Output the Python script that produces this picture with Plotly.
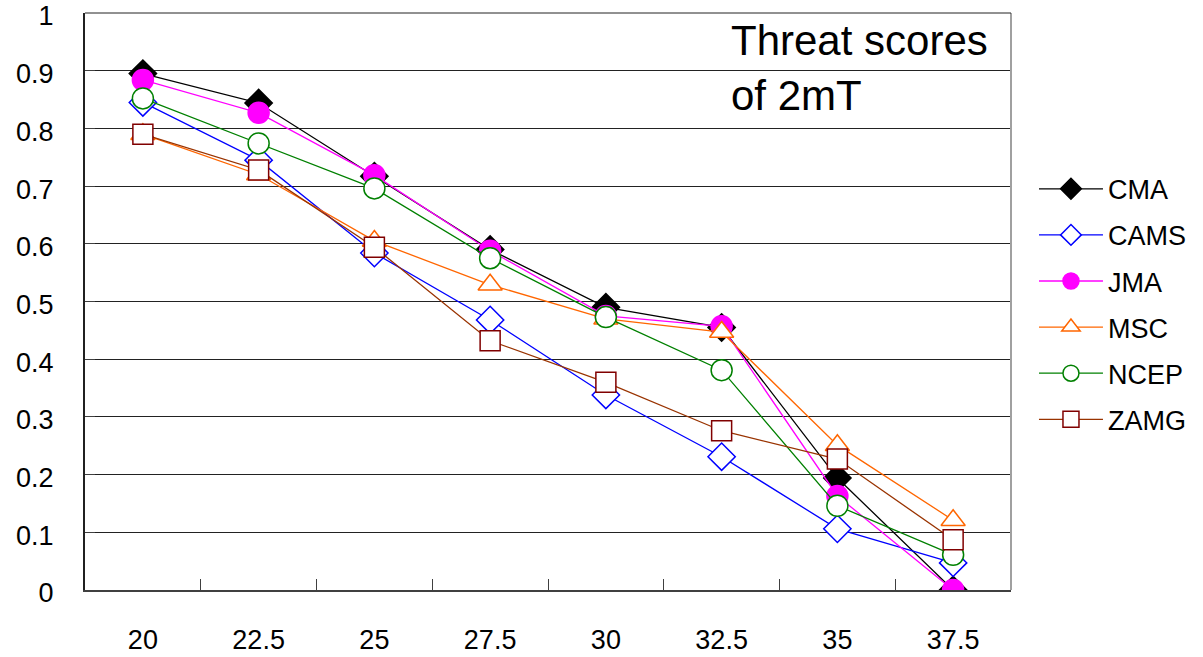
import plotly.graph_objects as go

categories = ["20", "22.5", "25", "27.5", "30", "32.5", "35", "37.5"]
cma = [0.895, 0.844, 0.717, 0.590, 0.490, 0.455, 0.194, 0.0]
cams = [0.845, 0.745, 0.584, 0.468, 0.338, 0.231, 0.106, 0.047]
jma = [0.884, 0.827, 0.719, 0.588, 0.475, 0.457, 0.163, 0.0]
msc = [0.790, 0.720, 0.605, 0.529, 0.470, 0.447, 0.251, 0.121]
ncep = [0.852, 0.774, 0.696, 0.575, 0.473, 0.381, 0.146, 0.061]
zamg = [0.790, 0.728, 0.594, 0.432, 0.360, 0.276, 0.227, 0.087]
ytick_vals = [0, 0.1, 0.2, 0.3, 0.4, 0.5, 0.6, 0.7, 0.8, 0.9, 1]
ytick_text = ["0", "0.1", "0.2", "0.3", "0.4", "0.5", "0.6", "0.7", "0.8", "0.9", "1"]

series = [
    ("CMA", cma, "#000000", "diamond", "#000000", "#000000", 21),
    ("CAMS", cams, "#0000FF", "diamond", "#FFFFFF", "#0000FF", 21),
    ("JMA", jma, "#FF00FF", "circle", "#FF00FF", "#FF00FF", 21),
    ("MSC", msc, "#FF6600", "triangle-up", "#FFFFFF", "#FF6600", 21),
    ("NCEP", ncep, "#008000", "circle", "#FFFFFF", "#008000", 21),
    ("ZAMG", zamg, "#993300", "square", "#FFFFFF", "#800000", 20),
]

fig = go.Figure()
for name, vals, lc, sym, fill, mline, size in series:
    fig.add_trace(go.Scatter(
        x=categories, y=vals, name=name, mode="lines+markers",
        legendgroup=name,
        line=dict(color=lc, width=1.3),
        marker=dict(symbol=sym, size=size, color=fill,
                    line=dict(color=mline, width=1.5)),
    ))

fig.add_annotation(
    x=0.695, y=0.997, xref="paper", yref="paper", xanchor="left", yanchor="top",
    text="Threat scores<br>of 2mT", showarrow=False, align="left",
    font=dict(family="Liberation Sans", size=42, color="#000000"),
)

fig.update_layout(
    width=1203, height=657,
    margin=dict(l=85, r=191, t=13, b=67),
    paper_bgcolor="#FFFFFF", plot_bgcolor="#FFFFFF",
    font=dict(family="Liberation Sans", size=27, color="#000000"),
    showlegend=True,
    legend=dict(x=1.0237, y=0.737, xanchor="left", yanchor="top",
                font=dict(size=27), tracegroupgap=8, itemwidth=64,
                bgcolor="rgba(0,0,0,0)"),
    xaxis=dict(type="category", range=[-0.5, 7.5], showgrid=False,
               showline=True, linecolor="#404040", linewidth=2,
               ticks="inside", ticklen=11, tickcolor="#404040",
               tickson="boundaries", mirror=False, automargin=False,
               tickfont=dict(size=27), ticklabelstandoff=25),
    yaxis=dict(range=[0, 1], tickvals=ytick_vals, ticktext=ytick_text,
               showgrid=True, gridcolor="#222222", gridwidth=1,
               showline=True, linecolor="#202020", linewidth=2,
               ticks="inside", ticklen=10, tickcolor="#404040",
               zeroline=False, automargin=False, ticklabeloverflow="allow",
               tickfont=dict(size=27), ticklabelstandoff=24, ticklabelshift=3),
)

fig.add_shape(type="line", xref="paper", yref="paper", x0=1, x1=1, y0=0, y1=1,
              line=dict(color="#A0A0A0", width=2))
fig.add_shape(type="line", xref="paper", yref="paper", x0=0, x1=1, y0=1, y1=1,
              line=dict(color="#222222", width=1))

fig.write_html("out.html", post_script="document.body.style.margin='0';",
               config={"displayModeBar": False})
